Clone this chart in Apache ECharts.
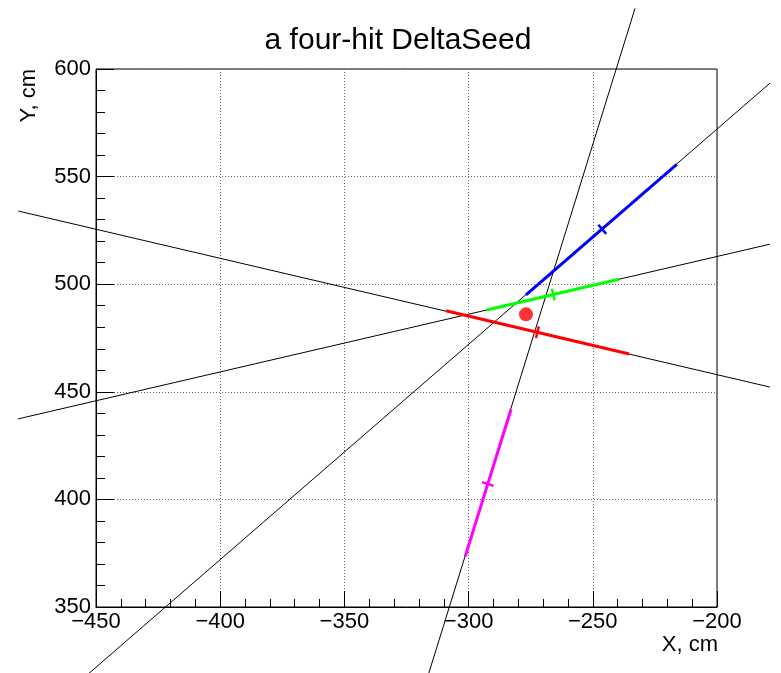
<!DOCTYPE html>
<html>
<head>
<meta charset="utf-8">
<title>a four-hit DeltaSeed</title>
<script src="https://cdn.jsdelivr.net/npm/echarts@6/dist/echarts.min.js"></script>
<style>
  html, body { margin: 0; padding: 0; background: #fff; }
  #chart { width: 781px; height: 673px; }
</style>
</head>
<body>
<div id="chart"></div>
<script>
// Axis ranges and tick spacing (cm)
const xRange = [-450, -200];
const yRange = [350, 600];
const tickStep = 50;

// Four hits: fitted track segment, hit position on it, and the extended track line
const trackNames = ['red', 'green', 'blue', 'magenta'];
const segStartX = [-309.1, -292.7, -276.9, -301.4];
const segStartY = [487.7, 488.0, 495.0, 373.4];
const segEndX = [-235.3, -239.5, -216.2, -282.9];
const segEndY = [467.6, 502.3, 555.7, 441.9];
const hitX = [-272.3, -265.9, -246.2, -292.3];
const hitY = [477.7, 495.2, 525.5, 407.2];
const lineStartX = [-481.3, -481.4, -470.0, -321.2];
const lineStartY = [534.0, 437.4, 302.0, 300.0];
const lineEndX = [-178.7, -178.7, -178.7, -233.0];
const lineEndY = [452.2, 518.6, 593.4, 628.2];

// Seed vertex estimate
const seedX = [-276.9];
const seedY = [486.0];

const trackColors = ['#ff0000', '#00ff00', '#0000ff', '#ff00ff'];
const FONT = '"Liberation Sans", Arial, Helvetica, sans-serif';

const fmtNum = v => String(v).replace('-', '\u2212');

// Extended track lines, allowed to run past the frame
const lineData = trackNames.map((name, i) => [lineStartX[i], lineStartY[i], lineEndX[i], lineEndY[i]]);

const trackLineSeries = {
  type: 'custom',
  name: 'track lines',
  data: lineData,
  encode: { x: [0, 2], y: [1, 3] },
  clip: false,
  silent: true,
  z: 2,
  renderItem: function (params, api) {
    const a = api.coord([api.value(0), api.value(1)]);
    const b = api.coord([api.value(2), api.value(3)]);
    return {
      type: 'line',
      shape: { x1: a[0], y1: a[1], x2: b[0], y2: b[1] },
      style: { stroke: '#000', lineWidth: 1 }
    };
  }
};

const segmentData = trackNames.map((name, i) => [
  segStartX[i], segStartY[i], segEndX[i], segEndY[i], hitX[i], hitY[i], i
]);

// Coloured fitted segments with a short perpendicular mark at each hit
const segmentSeries = {
  type: 'custom',
  name: 'segments',
  data: segmentData,
  encode: { x: [0, 2, 4], y: [1, 3, 5] },
  clip: false,
  silent: true,
  z: 3,
  renderItem: function (params, api) {
    const p1 = api.coord([api.value(0), api.value(1)]);
    const p2 = api.coord([api.value(2), api.value(3)]);
    const h = api.coord([api.value(4), api.value(5)]);
    const color = trackColors[api.value(6)];
    const dx = p2[0] - p1[0];
    const dy = p2[1] - p1[1];
    const len = Math.hypot(dx, dy);
    const nx = -dy / len, ny = dx / len;
    const half = 6;
    return {
      type: 'group',
      children: [
        {
          type: 'line',
          shape: { x1: p1[0], y1: p1[1], x2: p2[0], y2: p2[1] },
          style: { stroke: color, lineWidth: 3 }
        },
        {
          type: 'line',
          shape: { x1: h[0] - nx * half, y1: h[1] - ny * half, x2: h[0] + nx * half, y2: h[1] + ny * half },
          style: { stroke: color, lineWidth: 2.5 }
        }
      ]
    };
  }
};

const seedSeries = {
  type: 'scatter',
  name: 'seed',
  data: seedX.map((x, i) => [x, seedY[i]]),
  symbol: 'circle',
  symbolSize: 14,
  silent: true,
  z: 4,
  itemStyle: { color: '#ff0000' }
};

const chart = echarts.init(document.getElementById('chart'), null, { renderer: 'canvas' });

chart.setOption({
  animation: false,
  backgroundColor: '#fff',
  grid: {
    left: 96, right: 64, top: 69, bottom: 66,
    show: true, borderColor: '#000', borderWidth: 1, backgroundColor: 'transparent'
  },
  xAxis: {
    type: 'value',
    min: xRange[0], max: xRange[1], interval: tickStep,
    axisLine: { show: true, onZero: false, lineStyle: { color: '#000', width: 1 } },
    axisTick: { show: true, inside: true, length: 16, lineStyle: { color: '#000' } },
    minorTick: { show: true, splitNumber: 5, length: 8, lineStyle: { color: '#000' } },
    splitLine: { show: true, lineStyle: { color: '#666', width: 1, type: [1, 2] } },
    axisLabel: { color: '#000', fontSize: 22, fontFamily: FONT, margin: 4, formatter: fmtNum }
  },
  yAxis: {
    type: 'value',
    min: yRange[0], max: yRange[1], interval: tickStep,
    axisLine: { show: true, onZero: false, lineStyle: { color: '#000', width: 1 } },
    axisTick: { show: true, inside: true, length: 18, lineStyle: { color: '#000' } },
    minorTick: { show: true, splitNumber: 5, length: 9, lineStyle: { color: '#000' } },
    splitLine: { show: true, lineStyle: { color: '#666', width: 1, type: [1, 2] } },
    axisLabel: { color: '#000', fontSize: 22, fontFamily: FONT, margin: 5, formatter: fmtNum }
  },
  graphic: [
    {
      type: 'text', x: 398, y: 41, z: 10,
      style: { text: 'a four-hit DeltaSeed', font: '30px ' + FONT, fill: '#000', align: 'center', verticalAlign: 'middle' }
    },
    {
      type: 'text', x: 718, y: 645, z: 10,
      style: { text: 'X, cm', font: '22px ' + FONT, fill: '#000', align: 'right', verticalAlign: 'middle' }
    },
    {
      type: 'text', x: 29, y: 69, rotation: Math.PI / 2, z: 10,
      style: { text: 'Y, cm', font: '22px ' + FONT, fill: '#000', align: 'right', verticalAlign: 'middle' }
    }
  ],
  series: [trackLineSeries, segmentSeries, seedSeries]
});
</script>
</body>
</html>
